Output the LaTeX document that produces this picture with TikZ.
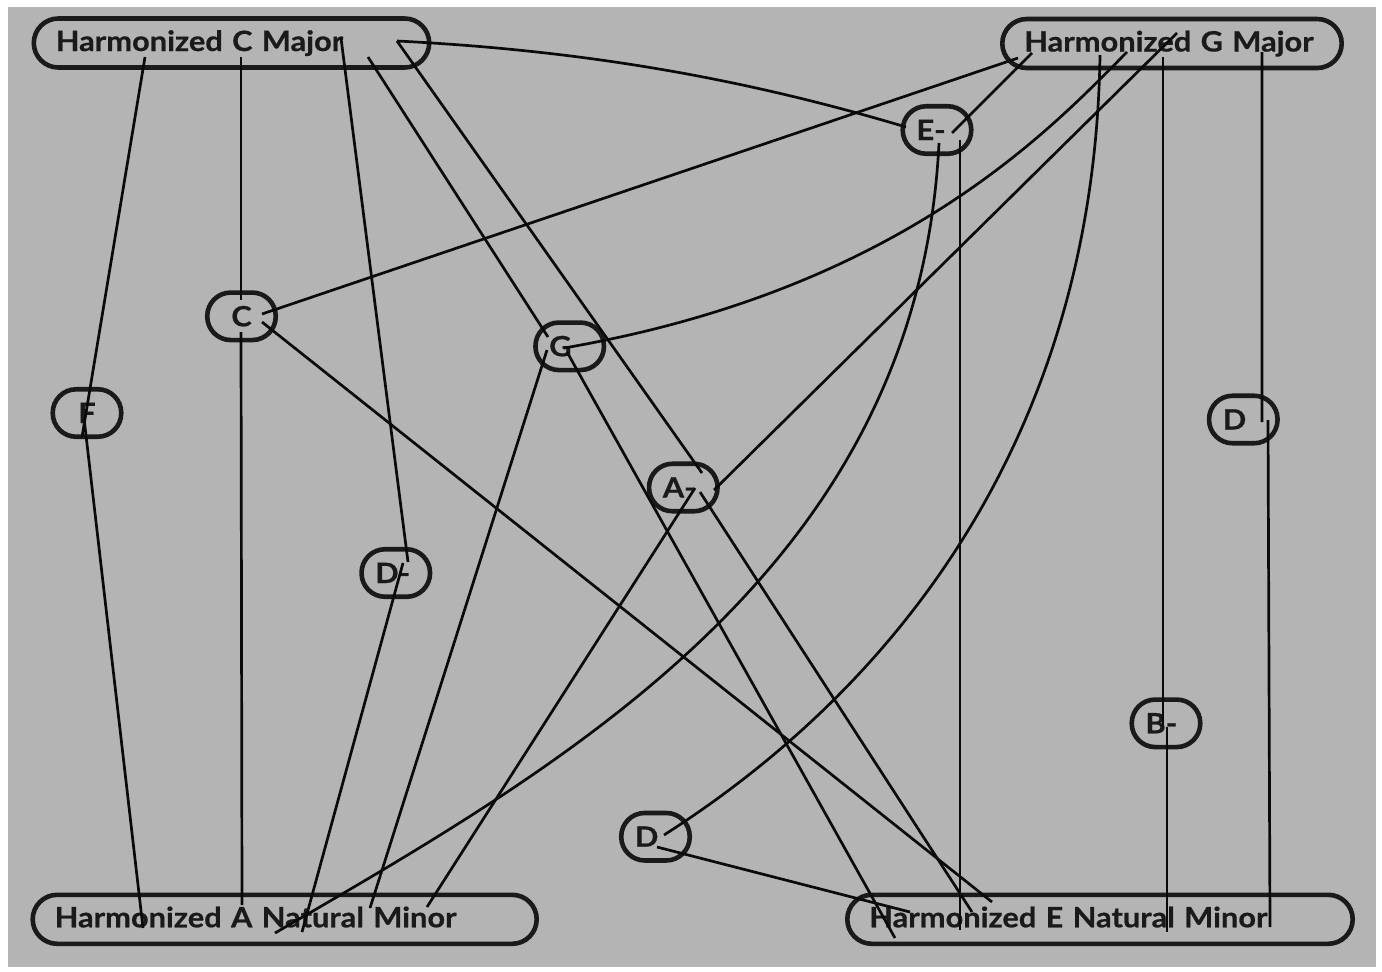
\documentclass[tikz,border=0pt]{standalone}
\usepackage{fontspec}
\setmainfont{Lato}[BoldFeatures={FakeStretch=1.1,FakeBold=0.6}]
\usetikzlibrary{calc}
\definecolor{bg}{RGB}{180,180,180}
\definecolor{ink}{RGB}{26,26,26}
\definecolor{wirec}{RGB}{10,10,10}
\begin{document}
\begin{tikzpicture}[x=0.5pt,y=-0.5pt,
  big/.style={draw=ink, line width=2.3pt, rounded corners=12.25pt, minimum height=24.5pt,
    inner xsep=11pt, inner ysep=0pt, text height=10pt, text depth=2pt, align=left,
    font=\fontsize{14}{16}\selectfont\bfseries, text=ink},
  small/.style={draw=ink, line width=2.3pt, rounded corners=11.75pt, minimum height=23.75pt,
    text width=20.5pt, inner xsep=6.875pt, inner ysep=0pt, text height=10pt, text depth=0pt,
    align=left, font=\fontsize{14}{16}\selectfont\bfseries, text=ink},
  wire/.style={draw=wirec, line width=1.35pt}]
\fill[white] (0,0) rectangle (1382,971);
\fill[bg] (7.5,7) rectangle (1375.5,967);
\useasboundingbox (0,0) rectangle (1382,971);

% big boxes
\node[big, text width=175.7pt] (cmaj) at (231.5,43) {Harmonized C Major};
\node[big, text width=147.7pt] (gmaj) at (1172,43.5) {Harmonized G Major};
\node[big, text width=230pt] (amin) at (284.7,919.3) {Harmonized A Natural Minor};
\node[big, text width=230.7pt] (emin) at (1100,919.3) {Harmonized E Natural Minor};

% small nodes
\node[small] (em) at (937,130) {E-};
\node[small, align=center] (c) at (241.5,316.3) {C};
\node[small] (g) at (569.7,346.3) {G};
\node[small, align=center] (f) at (87,413) {F};
\node[small] (dr) at (1243.3,419.5) {D};
\node[small] (am) at (683.3,487.5) {A-};
\node[small] (dm) at (395.8,573) {D-};
\node[small] (bm) at (1166,723.3) {B-};
\node[small] (db) at (655.5,836.7) {D};

% connectors
\draw[wire] ($(cmaj.center)+(-86.5,14)$) -- ($(f.center)+(-5,24)$);
\draw[wire] ($(f.center)+(-3,5)$) -- ($(amin.center)+(-141.7,8.7)$);
\draw[wire] ($(cmaj.center)+(9.5,14)$) -- ($(c.center)+(-0.5,-16.3)$);
\draw[wire] ($(c.center)+(-0.5,15.7)$) -- ($(amin.center)+(-42.7,-14.3)$);
\draw[wire] ($(cmaj.center)+(109.5,-5)$) -- ($(dm.center)+(12.2,-11)$);
\draw[wire] ($(dm.center)+(7.2,-10)$) -- ($(amin.center)+(17.3,12.7)$);
\draw[wire] ($(cmaj.center)+(136.5,14)$) -- ($(g.center)+(-21.7,-9.3)$);
\draw[wire] ($(g.center)+(-22.7,3.7)$) -- ($(amin.center)+(85.3,-11.3)$);
\draw[wire] ($(g.center)+(-2.7,5.7)$) -- ($(emin.center)+(-205,18.7)$);
\draw[wire] ($(cmaj.center)+(165.5,-2)$) -- ($(am.center)+(18.7,-14.5)$);
\draw[wire] ($(am.center)+(16.7,4.5)$) -- ($(emin.center)+(-128,-7.3)$);
\draw[wire] ($(am.center)+(11.7,0.5)$) -- ($(amin.center)+(142.3,-12.3)$);
\draw[wire] ($(cmaj.center)+(165.5,-2)$) .. controls +(200,10) and +(-151,-45) .. ($(em.center)+(-31,-3)$);
\draw[wire] ($(c.center)+(20.5,-2.3)$) -- ($(gmaj.center)+(-154,14.5)$);
\draw[wire] ($(c.center)+(20.5,5.7)$) -- ($(emin.center)+(-108,-17.3)$);
\draw[wire] ($(gmaj.center)+(-140,9.5)$) -- ($(em.center)+(15,3)$);
\draw[wire] ($(em.center)+(2,13)$) .. controls +(-21,420) and +(300,-174) .. ($(amin.center)+(-9.7,13.7)$);
\draw[wire] ($(em.center)+(23,10)$) -- ($(emin.center)+(-140,10.7)$);
\draw[wire] ($(gmaj.center)+(-72,11.5)$) .. controls +(-5,345) and +(266,-170) .. ($(db.center)+(8.5,-1.7)$);
\draw[wire] ($(db.center)+(1.5,10.3)$) -- ($(emin.center)+(-190,-7.3)$);
\draw[wire] ($(g.center)+(-5.7,1.7)$) .. controls +(336,-58) and +(-77,78) .. ($(gmaj.center)+(-45,8.5)$);
\draw[wire] ($(gmaj.center)+(5,-10.5)$) -- ($(am.center)+(30.7,2.5)$);
\draw[wire] ($(gmaj.center)+(-9,13.5)$) -- ($(bm.center)+(-3,3.7)$);
\draw[wire] ($(bm.center)+(1,3.7)$) -- ($(emin.center)+(67,12.7)$);
\draw[wire] ($(gmaj.center)+(90,8.5)$) -- ($(dr.center)+(18.7,2.5)$);
\draw[wire] ($(dr.center)+(24.7,0.5)$) -- ($(emin.center)+(170,7.7)$);
\end{tikzpicture}
\end{document}
